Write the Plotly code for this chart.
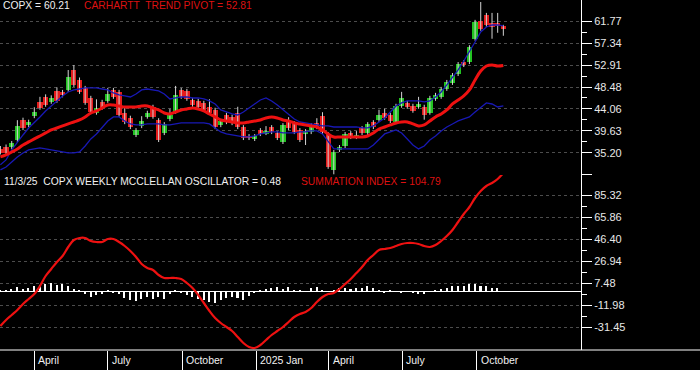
import pandas as pd
import plotly.graph_objects as go

# ---------------- data ----------------
DATES = pd.date_range("2024-02-19", periods=90, freq="7D")

OPEN = [36.0, 36.4, 36.4, 37.8, 41.8, 40.8, 42.6, 45.5, 46.5, 45.5,
        47.7, 47.5, 47.9, 51.9, 49.9, 48.3, 46.3, 43.3, 45.5, 45.7,
        47.9, 47.5, 43.3, 42.3, 38.8, 40.6, 42.5, 44.5, 41.8, 39.2,
        42.0, 43.5, 47.9, 47.7, 45.9, 45.7, 45.3, 44.5, 43.9, 40.8,
        42.9, 42.5, 43.3, 40.4, 38.6, 38.0, 39.8, 39.2, 40.4, 39.2,
        37.4, 41.4, 41.2, 39.8, 39.2, 39.4, 41.2, 42.6, 39.0, 31.8,
        35.8, 36.6, 39.2, 38.4, 40.2, 39.2, 41.4, 41.8, 43.3, 42.9,
        41.4, 44.7, 45.3, 44.7, 44.5, 44.5, 43.3, 46.1, 46.5, 48.1,
        49.3, 51.1, 53.5, 53.5, 58.2, 61.8, 63.0, 61.4, 61.4, 60.8]
HIGH = [36.6, 36.9, 37.6, 41.8, 42.3, 41.9, 44.4, 46.5, 47.0, 46.8,
        48.4, 47.9, 51.9, 52.9, 50.4, 48.7, 46.7, 46.0, 45.9, 48.3,
        48.3, 47.9, 44.3, 42.7, 40.2, 42.6, 43.7, 44.9, 42.2, 41.4,
        44.1, 48.7, 48.3, 48.1, 46.3, 46.1, 45.7, 46.0, 44.3, 42.0,
        43.3, 42.9, 44.5, 40.8, 39.0, 39.0, 40.2, 40.6, 40.8, 39.6,
        41.2, 42.4, 41.6, 40.2, 40.0, 41.2, 42.2, 43.4, 39.4, 35.8,
        36.8, 39.4, 39.6, 39.6, 40.6, 41.4, 41.8, 43.9, 44.1, 43.3,
        45.1, 47.5, 45.7, 45.1, 46.5, 44.9, 46.7, 47.3, 48.5, 49.9,
        51.3, 53.5, 53.9, 56.9, 62.0, 65.6, 63.4, 63.4, 63.4, 61.0]
LOW = [34.9, 34.8, 36.0, 37.4, 39.8, 40.4, 42.2, 43.9, 44.5, 45.1,
       45.3, 46.4, 47.5, 48.5, 47.1, 44.9, 43.0, 42.9, 43.9, 45.3,
       46.1, 42.5, 41.0, 40.0, 38.4, 40.2, 42.1, 42.1, 37.4, 38.8,
       41.6, 43.1, 46.1, 45.7, 44.5, 44.1, 43.5, 42.9, 40.0, 40.4,
       41.0, 40.8, 40.0, 37.8, 37.8, 37.6, 38.6, 38.8, 39.0, 37.8,
       37.0, 39.8, 39.0, 37.4, 36.8, 39.0, 40.0, 39.0, 32.0, 30.9,
       35.4, 36.2, 38.0, 38.0, 38.8, 38.8, 40.0, 41.4, 41.9, 41.2,
       41.0, 44.3, 44.1, 43.3, 44.1, 41.9, 42.9, 45.7, 46.1, 47.7,
       48.9, 50.7, 52.5, 53.1, 57.8, 59.8, 60.6, 58.2, 59.4, 58.8]
CLOSE = [35.2, 35.2, 37.2, 40.6, 40.2, 41.4, 43.4, 44.3, 44.9, 46.3,
         45.7, 46.9, 50.5, 48.9, 47.5, 45.3, 43.5, 44.3, 44.3, 47.1,
         46.5, 42.9, 41.4, 40.4, 39.8, 41.6, 43.3, 42.5, 37.8, 41.0,
         42.9, 46.9, 46.5, 46.1, 44.9, 44.5, 43.9, 43.3, 40.4, 41.6,
         41.4, 41.2, 40.4, 38.2, 38.2, 38.6, 39.0, 39.6, 39.4, 38.2,
         40.8, 40.2, 39.4, 37.8, 39.6, 40.8, 40.4, 39.4, 32.4, 35.4,
         36.4, 39.0, 38.4, 38.8, 39.2, 41.0, 40.4, 42.9, 42.3, 41.6,
         44.7, 46.3, 44.5, 43.7, 45.1, 42.9, 46.3, 46.9, 48.1, 49.5,
         50.9, 53.1, 52.9, 56.5, 61.6, 60.2, 61.0, 60.6, 60.8, 60.21]

TREND_PIVOT = [34.4, 34.80, 35.40, 36.01, 36.81, 37.42, 38.02, 38.62, 39.23, 39.83,
               40.23, 40.64, 41.04, 41.44, 41.84, 42.45, 43.25, 43.66, 44.26, 44.86,
               44.86, 44.66, 44.46, 44.46, 44.46, 44.66, 44.66, 44.26, 43.86, 43.25,
               43.05, 43.45, 43.86, 44.06, 44.26, 44.06, 43.66, 43.05, 42.45, 41.84,
               41.64, 41.44, 41.24, 41.24, 41.44, 41.64, 41.84, 42.25, 42.45, 42.25,
               41.84, 41.64, 41.24, 41.04, 40.84, 40.64, 40.43, 39.83, 39.03, 38.42,
               38.42, 38.42, 38.42, 38.42, 38.42, 38.62, 39.23, 40.03, 40.43, 40.84,
               41.24, 41.44, 41.44, 41.04, 40.64, 40.84, 41.64, 42.45, 43.05, 43.86,
               45.06, 45.87, 46.68, 47.88, 49.90, 51.71, 52.71, 52.92, 52.71, 52.81]
UPPER_BAND = [32.8, 33.79, 35.80, 37.42, 38.82, 40.23, 41.24, 42.45, 43.66, 44.66,
              45.67, 46.68, 47.48, 47.88, 48.08, 48.29, 48.29, 48.29, 48.08, 47.88,
              47.28, 46.88, 46.68, 46.47, 47.08, 47.88, 48.08, 47.88, 47.68, 47.08,
              46.07, 46.27, 46.47, 46.47, 46.27, 46.27, 46.07, 45.67, 45.06, 43.86,
              43.45, 43.05, 42.85, 43.45, 44.26, 45.06, 45.87, 46.27, 45.67, 44.86,
              43.86, 42.85, 42.04, 41.44, 41.24, 41.04, 40.84, 40.64, 40.64, 40.43,
              40.43, 40.43, 40.43, 40.43, 40.23, 40.23, 40.64, 41.44, 42.25, 43.45,
              44.66, 45.27, 45.67, 45.67, 45.67, 45.47, 45.67, 46.47, 47.48, 48.89,
              50.30, 51.91, 53.72, 55.53, 57.55, 59.56, 60.56, 60.97, 60.97, 60.77]
LOWER_BAND = [31.8, 32.38, 33.39, 34.40, 35.20, 35.80, 36.01, 36.21, 36.01, 35.80,
              35.60, 35.40, 35.20, 35.20, 35.40, 36.61, 38.02, 39.03, 40.23, 41.64,
              42.45, 42.45, 41.64, 41.04, 40.84, 40.84, 41.04, 41.04, 41.04, 40.84,
              40.84, 41.04, 41.24, 41.24, 41.24, 41.24, 41.24, 41.04, 40.23, 39.43,
              39.03, 38.82, 38.62, 38.42, 38.42, 38.62, 39.03, 39.23, 39.43, 39.43,
              39.23, 39.23, 39.23, 39.43, 39.43, 39.63, 39.63, 39.03, 37.42, 36.01,
              36.01, 36.01, 36.01, 36.01, 36.01, 36.01, 36.81, 38.02, 39.03, 39.43,
              39.83, 39.23, 38.02, 36.81, 36.01, 36.61, 37.82, 38.62, 39.63, 40.43,
              41.04, 41.64, 42.04, 42.45, 43.45, 44.46, 45.27, 45.06, 44.46, 44.66]

SUMMATION = [-30.3, -24.99, -20.58, -16.17, -10.87, -6.46, -2.05, 5.01, 13.84, 20.02,
             26.19, 31.49, 39.43, 45.61, 47.37, 47.37, 44.73, 43.84, 43.84, 46.49,
             46.49, 43.84, 40.31, 35.90, 30.61, 24.43, 20.90, 19.13, 14.72, 12.07,
             12.07, 12.07, 11.19, 7.66, 3.25, -2.93, -9.99, -17.05, -23.23, -27.64,
             -31.17, -34.70, -40.00, -45.29, -48.82, -49.70, -47.06, -42.64, -38.23, -34.70,
             -31.17, -26.76, -22.35, -19.70, -17.93, -14.40, -9.11, -4.70, -2.05, -1.17,
             2.37, 6.78, 11.19, 16.49, 21.78, 27.96, 32.37, 36.78, 37.67, 38.55,
             40.31, 42.08, 42.96, 42.96, 42.08, 40.31, 39.43, 41.20, 44.73, 49.14,
             54.43, 61.49, 68.55, 74.73, 82.67, 88.85, 93.26, 95.91, 99.44, 104.79]
OSCILLATOR = [1.0, 1.5, 2.6, 4.0, 2.6, 3.5, 4.9, 5.7, 7.1, 7.5,
              5.7, 6.6, 5.3, 2.6, 0.9, -1.8, -4.4, -2.9, -1.8, 1.3,
              -1.1, -2.2, -5.7, -7.1, -7.9, -6.2, -4.4, -6.2, -4.9, -6.2,
              -1.8, 1.3, -1.1, -2.6, -4.4, -6.2, -7.5, -9.3, -9.7, -7.5,
              -5.7, -4.9, -5.7, -7.1, -3.5, -0.9, 1.1, 2.4, 2.9, 4.1,
              2.4, 4.1, 1.1, 1.8, 0.4, 2.9, 4.1, 1.8, 0.6, 1.8,
              2.9, 2.9, 2.4, 3.5, 2.9, 4.7, 2.9, 1.8, -1.1, 1.1,
              0.6, -1.1, 0.6, -1.1, -1.8, -2.4, 0.6, 1.1, 2.4, 2.9,
              4.7, 5.3, 5.3, 6.4, 7.1, 5.3, 4.7, 3.5, 2.9, 0.48]

QUARTER_TICKS = ["2024-04-01", "2024-07-01", "2024-10-01", "2025-01-01",
                 "2025-04-01", "2025-07-01", "2025-10-01"]
QUARTER_LABELS = ["April", "July", "October", "2025 Jan", "April", "July", "October"]

PRICE_TICKS = [30.77, 35.20, 39.63, 44.06, 48.48, 52.91, 57.34, 61.77]
PRICE_LABELS = ["", "35.20", "39.63", "44.06", "48.48", "52.91", "57.34", "61.77"]
PRICE_MINOR = [37.415, 41.845, 46.27, 50.695, 55.125, 59.555]
OSC_TICKS = [-31.45, -11.98, 7.48, 26.94, 46.40, 65.86, 85.32]
OSC_LABELS = ["-31.45", "-11.98", "7.48", "26.94", "46.40", "65.86", "85.32"]
OSC_MINOR = [-21.715, -2.25, 17.21, 36.67, 56.13, 75.59]

# ---------------- styling ----------------
GREEN = "#22c322"
RED = "#e41c1c"
LINE_RED = "#ee1111"
BLUE = "#1818b4"
FONT = "Liberation Sans, Arial, sans-serif"
DAY_MS = 86400000

fig = go.Figure()

# wicks
wx, wy = [], []
for d, h, l in zip(DATES, HIGH, LOW):
    wx += [d, d, None]
    wy += [l, h, None]
fig.add_trace(go.Scatter(x=wx, y=wy, mode="lines", line=dict(color="#d4d4d4", width=1),
                         hoverinfo="skip", xaxis="x", yaxis="y"))

# bodies
body_colors = [GREEN if c >= o else RED for o, c in zip(OPEN, CLOSE)]
fig.add_trace(go.Bar(x=DATES, y=[c - o for o, c in zip(OPEN, CLOSE)], base=OPEN,
                     width=6.5 * DAY_MS, marker=dict(color=body_colors, line=dict(width=0)),
                     xaxis="x", yaxis="y"))

fig.add_trace(go.Scatter(x=DATES, y=UPPER_BAND, mode="lines", line=dict(color=BLUE, width=1.3),
                         xaxis="x", yaxis="y"))
fig.add_trace(go.Scatter(x=DATES, y=LOWER_BAND, mode="lines", line=dict(color=BLUE, width=1.3),
                         xaxis="x", yaxis="y"))
fig.add_trace(go.Scatter(x=DATES, y=TREND_PIVOT, mode="lines", line=dict(color=LINE_RED, width=3, shape="spline"),
                         xaxis="x", yaxis="y"))

# lower panel
fig.add_trace(go.Bar(x=DATES, y=OSCILLATOR, width=1.9 * DAY_MS,
                     marker=dict(color="white", line=dict(width=0)), xaxis="x", yaxis="y2"))
fig.add_trace(go.Scatter(x=DATES, y=SUMMATION, mode="lines", line=dict(color=LINE_RED, width=2.2, shape="spline"),
                         xaxis="x", yaxis="y2"))

tickfont = dict(family=FONT, size=11, color="#e8e8e8")
common_y = dict(side="right", anchor="x", ticks="outside", ticklen=10, tickwidth=1, tickcolor="white",
                showline=True, linecolor="white", linewidth=1, showgrid=True, gridcolor="#4c4c4c",
                griddash="3px,3px", gridwidth=1, tickfont=tickfont, automargin=False, fixedrange=True)

fig.update_layout(
    width=700, height=370,
    margin=dict(l=0, r=119, t=0, b=20),
    paper_bgcolor="black", plot_bgcolor="black",
    showlegend=False, barmode="overlay", bargap=0,
    xaxis=dict(type="date", range=["2024-02-18 12:00", "2026-02-07 05:00"], anchor="y2",
               tickvals=QUARTER_TICKS, showticklabels=False, ticks="outside", ticklen=20,
               tickwidth=1, tickcolor="white", showgrid=False, zeroline=False, showline=False,
               automargin=False, fixedrange=True),
    yaxis=dict(domain=[0.5, 1], range=[30.76, 66.0], tickvals=PRICE_TICKS, ticktext=PRICE_LABELS,
               zeroline=False,
               minor=dict(tickvals=PRICE_MINOR, ticks="outside", ticklen=5, tickcolor="white", showgrid=False),
               **common_y),
    yaxis2=dict(domain=[0, 0.5], range=[-51.47, 102.97], tickvals=OSC_TICKS, ticktext=OSC_LABELS,
                zeroline=True, zerolinecolor="white", zerolinewidth=1,
                minor=dict(tickvals=OSC_MINOR, ticks="outside", ticklen=5, tickcolor="white", showgrid=False),
                **common_y),
)

# full-width baseline of the date band
fig.add_shape(type="line", xref="paper", yref="paper", x0=0, x1=700 / 581, y0=0, y1=0,
              line=dict(color="white", width=1))

# date labels
for d, lab in zip(QUARTER_TICKS, QUARTER_LABELS):
    fig.add_annotation(x=d, xref="x", y=-10 / 350, yref="paper", text=lab, showarrow=False,
                       xanchor="left", yanchor="middle", xshift=2,
                       font=dict(family=FONT, size=10.5, color="#f0f0f0"))

hdr = dict(family=FONT, size=10.3)
fig.add_annotation(x=1 / 581, y=1 - 6 / 350, xref="paper", yref="paper", text="COPX = 60.21",
                   showarrow=False, xanchor="left", yanchor="middle", font=dict(color="#f0f0f0", **hdr))
fig.add_annotation(x=82 / 581, y=1 - 6 / 350, xref="paper", yref="paper", text="CARHARTT  TREND PIVOT = 52.81",
                   showarrow=False, xanchor="left", yanchor="middle", font=dict(color="#dd1111", **hdr))
fig.add_annotation(x=2 / 581, y=1 - 181.5 / 350, xref="paper", yref="paper",
                   text="11/3/25  COPX WEEKLY MCCLELLAN OSCILLATOR = 0.48",
                   showarrow=False, xanchor="left", yanchor="middle", font=dict(color="#f0f0f0", **hdr))
fig.add_annotation(x=299 / 581, y=1 - 181.5 / 350, xref="paper", yref="paper", text="SUMMATION INDEX = 104.79",
                   showarrow=False, xanchor="left", yanchor="middle", font=dict(color="#dd1111", **hdr))

fig.write_html("out.html")
